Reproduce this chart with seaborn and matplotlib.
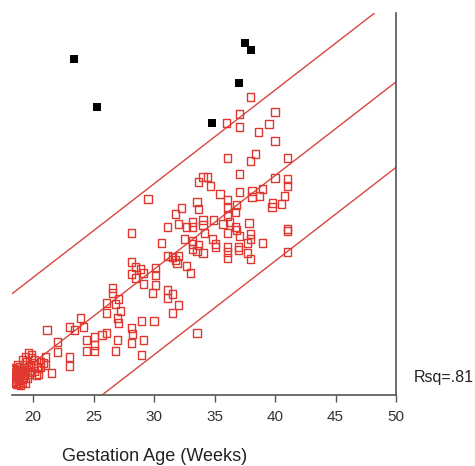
import matplotlib
matplotlib.use("Agg")
import matplotlib.pyplot as plt
import seaborn as sns
import pandas as pd
import numpy as np

# ---- data (y in arbitrary units) ----
normal_x = [
    38.0, 37.1, 36.0, 37.1, 40.0, 39.5, 38.6, 40.0, 36.1, 38.35, 38.0, 41.0,
    37.1, 34.05, 34.45, 33.7, 34.7, 40.0, 41.0, 41.0, 39.0, 38.1, 37.1, 35.45,
    36.1, 36.85, 36.1, 36.7, 36.1, 40.75, 38.1, 38.7, 39.8, 40.5, 39.75, 33.55,
    33.65, 32.3, 31.8, 29.5, 28.1, 31.15, 32.05, 32.65, 33.15, 33.2, 34.05, 34.95,
    34.05, 35.7, 36.2, 37.85, 41.0, 41.0, 32.55, 33.2, 34.15, 34.8, 35.05, 35.05,
    36.1, 36.7, 36.85, 37.1, 38.0, 38.0, 37.7, 39.0, 30.6, 33.15, 33.7, 33.15,
    34.05, 33.55, 36.1, 36.1, 36.1, 37.0, 37.0, 37.7, 38.0, 41.0, 31.15, 31.55,
    32.05, 31.9, 31.75, 32.7, 33.0, 28.1, 28.45, 28.85, 28.1, 29.1, 28.45, 29.1,
    30.1, 30.1, 30.1, 29.9, 31.15, 31.55, 31.15, 32.0, 31.5, 26.55, 26.6, 26.05,
    26.8, 27.1, 27.2, 26.05, 26.95, 27.1, 28.95, 30.0, 28.1, 28.25, 29.1, 28.1,
    29.0, 27.0, 26.85, 33.55, 23.9, 23.0, 23.4, 24.15, 26.05, 25.7, 25.1, 24.4,
    25.1, 24.45, 25.05, 21.15, 22.05, 22.05, 23.0, 23.0, 21.5, 21.05, 20.85,
    19.6, 19.85, 19.35, 19.1, 20.15, 20.6, 20.0, 19.6, 18.75, 18.5, 18.75, 19.2,
    19.75, 20.35, 20.6, 18.35, 18.4, 18.9, 18.55, 18.3, 19.35, 19.1, 19.45, 18.9,
    19.9, 18.3, 19.5, 21.0, 20.3, 19.0, 18.6,
    18.3, 18.5, 18.7, 18.9, 19.1, 19.3, 18.4, 18.65, 18.85, 19.05, 19.25, 18.3,
    18.55, 18.8, 19.0, 19.4, 19.7, 20.1, 20.45, 19.8,
]
normal_y = [
    29.8, 28.1, 27.2, 26.8, 28.3, 27.1, 26.3, 25.4, 23.7, 24.1, 23.4, 23.7,
    22.1, 21.8, 21.8, 21.3, 20.9, 21.7, 21.6, 20.9, 20.6, 20.4, 20.3, 20.1,
    19.5, 19.0, 18.8, 18.3, 17.9, 19.9, 19.8, 19.9, 19.2, 19.1, 18.8, 19.3,
    18.6, 18.7, 18.1, 19.6, 16.2, 16.8, 17.1, 16.8, 17.3, 16.8, 17.5, 17.5,
    17.0, 17.1, 17.3, 17.2, 16.6, 16.4, 15.6, 15.4, 16.2, 15.6, 15.1, 14.8,
    16.2, 16.8, 16.5, 15.9, 16.1, 15.6, 15.2, 15.2, 15.2, 15.1, 15.0, 14.6,
    14.2, 14.4, 14.8, 14.3, 13.7, 14.8, 14.5, 14.2, 13.6, 14.3, 13.9, 13.8,
    13.9, 13.2, 13.5, 12.9, 12.2, 13.3, 12.8, 12.6, 12.1, 12.2, 11.7, 11.1,
    12.7, 12.0, 11.0, 10.2, 10.5, 10.1, 9.7, 9.0, 8.2, 10.7, 10.2, 9.2,
    9.1, 9.6, 8.4, 8.2, 7.7, 7.2, 7.4, 7.4, 6.7, 6.1, 5.5, 5.2,
    4.0, 5.5, 4.4, 6.2, 7.7, 6.8, 6.5, 6.8, 6.2, 6.0, 5.8, 5.5,
    5.0, 4.4, 4.4, 6.5, 5.3, 4.3, 3.8, 2.9, 2.2, 3.8, 3.2,
    4.2, 4.0, 3.8, 3.5, 3.5, 3.3, 3.0, 2.8, 3.0, 2.6, 2.0, 1.8,
    2.3, 2.7, 2.8, 2.3, 1.7, 1.5, 2.1, 2.7, 2.3, 1.3, 3.3, 2.5,
    3.7, 1.7, 1.7, 3.0, 2.0, 2.2, 1.1,
    2.0, 1.4, 1.9, 2.2, 1.6, 2.0, 2.5, 2.4, 2.8, 2.4, 2.7, 1.3,
    1.2, 1.1, 1.0, 1.2, 2.1, 2.4, 2.1, 3.0,
]
outlier_x = [23.4, 25.3, 37.5, 38.0, 37.0, 34.8]
outlier_y = [33.6, 28.8, 35.2, 34.5, 31.2, 27.2]

fit_intercept_at_20 = 3.2   # regression line value at 20 weeks
fit_slope = 0.937           # per week
band_offset = 8.55          # prediction band half-width
rsq_label = "Rsq=.81"
x_ticks = [20, 25, 30, 35, 40, 45, 50]

# ---- figure ----
sns.set_theme(style="white")
plt.rcParams["font.family"] = ["Liberation Sans", "DejaVu Sans"]

fig = plt.figure(figsize=(4.75, 4.66), dpi=100)
ax = fig.add_axes([12 / 475, 1 - 395 / 466, 384 / 475, 382 / 466])
fig.patch.set_facecolor("white")
ax.set_facecolor("white")

red = "#e0382f"
line_red = "#d8463f"

xs = np.array([18.0, 51.0])
mid = fit_intercept_at_20 + fit_slope * (xs - 20)
lines = pd.DataFrame({
    "x": np.concatenate([xs, xs, xs]),
    "y": np.concatenate([mid + band_offset, mid, mid - band_offset]),
    "which": ["upper"] * 2 + ["fit"] * 2 + ["lower"] * 2,
})
sns.lineplot(data=lines, x="x", y="y", units="which", estimator=None,
             color=line_red, linewidth=1.0, ax=ax, legend=False)

normal = pd.DataFrame({"x": normal_x, "y": normal_y})
ax.scatter(normal["x"], normal["y"], marker="s", s=26, facecolors="none",
           edgecolors=red, linewidths=1.0, zorder=3)
outl = pd.DataFrame({"x": outlier_x, "y": outlier_y})
sns.scatterplot(data=outl, x="x", y="y", marker="s", s=38, color="black",
                edgecolor="black", linewidth=0, ax=ax, zorder=4)

ax.set_xlim(18.26, 50)
ax.set_ylim(0, 38.2)
ax.set_xticks(x_ticks)
ax.set_xticklabels([str(t) for t in x_ticks], fontsize=11, color="#333333")
ax.set_yticks([])
ax.tick_params(axis="x", direction="out", length=5, width=1.0, color="#555555",
               bottom=True, pad=6)

for s in ["left", "top"]:
    ax.spines[s].set_visible(False)
for s in ["right", "bottom"]:
    ax.spines[s].set_visible(True)
    ax.spines[s].set_color("#555555")
    ax.spines[s].set_linewidth(1.2)

ax.set_ylabel("")
ax.set_xlabel("Gestation Age (Weeks)", fontsize=13, color="#222222", va="center")
ax.xaxis.set_label_coords(0.37, -0.162)

ax.text(1.045, 0.047, rsq_label, transform=ax.transAxes, ha="left",
        va="center", fontsize=11.5, color="#222222")

fig.savefig("out.png", dpi=100, facecolor="white")
